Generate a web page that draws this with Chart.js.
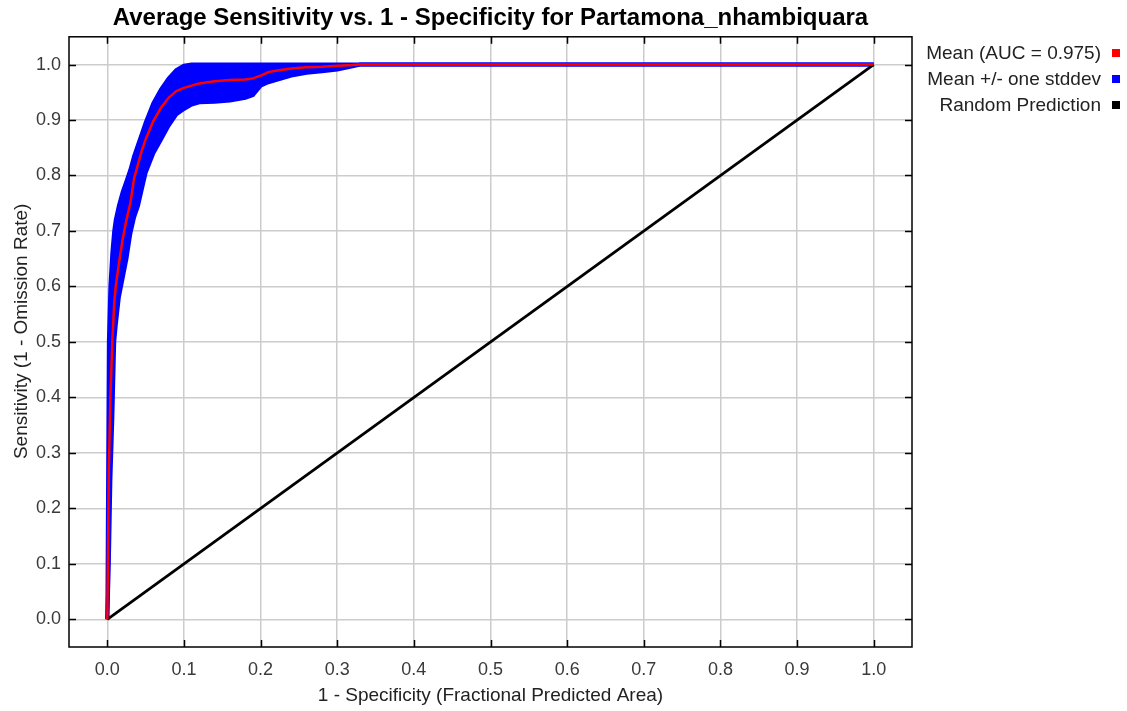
<!DOCTYPE html>
<html>
<head>
<meta charset="utf-8">
<script src="https://cdn.jsdelivr.net/npm/chart.js@4.4.1/dist/chart.umd.min.js"></script>
<style>
  html, body { margin: 0; padding: 0; background: #fff; }
  #wrap { width: 1127px; height: 711px; }
</style>
</head>
<body>
<div id="wrap"><canvas id="roc"></canvas></div>
<script>
// ROC data: fractional predicted area and sensitivity curves
const fpr       = [0, 0.002, 0.004, 0.0065, 0.009, 0.011, 0.015, 0.02, 0.025, 0.03, 0.035, 0.04, 0.045, 0.05, 0.06, 0.07, 0.08, 0.09, 0.1, 0.11, 0.12, 0.14, 0.16, 0.18, 0.19, 0.2, 0.21, 0.22, 0.24, 0.26, 0.28, 0.3, 0.32, 0.33, 0.35, 1.0];
const meanSens  = [0, 0.27, 0.40, 0.50, 0.57, 0.60, 0.64, 0.685, 0.72, 0.75, 0.795, 0.82, 0.845, 0.865, 0.898, 0.922, 0.940, 0.952, 0.958, 0.962, 0.966, 0.970, 0.972, 0.973, 0.975, 0.980, 0.986, 0.989, 0.993, 0.995, 0.996, 0.998, 0.999, 1.0, 1.0, 1.0];
const upperSens = [0, 0.50, 0.60, 0.66, 0.70, 0.72, 0.745, 0.77, 0.79, 0.81, 0.835, 0.855, 0.875, 0.895, 0.93, 0.955, 0.975, 0.99, 0.998, 1.0, 1.0, 1.0, 1.0, 1.0, 1.0, 1.0, 1.0, 1.0, 1.0, 1.0, 1.0, 1.0, 1.0, 1.0, 1.0, 1.0];
const lowerSens = [0, 0.10, 0.25, 0.36, 0.50, 0.53, 0.58, 0.615, 0.65, 0.695, 0.725, 0.745, 0.775, 0.805, 0.84, 0.865, 0.89, 0.91, 0.92, 0.928, 0.932, 0.933, 0.935, 0.94, 0.945, 0.962, 0.968, 0.972, 0.98, 0.985, 0.988, 0.991, 0.997, 1.0, 1.0, 1.0];
const randomX   = [0, 1];
const randomY   = [0, 1];
const tickValues = [0, 0.1, 0.2, 0.3, 0.4, 0.5, 0.6, 0.7, 0.8, 0.9, 1.0];

const FONT = "'Liberation Sans', Arial, sans-serif";
const pts = (xs, ys) => xs.map((v, i) => ({ x: v, y: ys[i] }));

// draws the box, inward tick marks and the right-hand legend
const framePlugin = {
  id: 'frame',
  afterDatasetsDraw(chart) {
    const { ctx, chartArea: a, scales: { x, y } } = chart;
    ctx.save();
    ctx.strokeStyle = '#000';
    ctx.lineWidth = 1.5;
    ctx.strokeRect(a.left, a.top, a.right - a.left, a.bottom - a.top);
    ctx.beginPath();
    tickValues.forEach(v => {
      const px = Math.round(x.getPixelForValue(v)) + 0.5;
      ctx.moveTo(px, a.bottom); ctx.lineTo(px, a.bottom - 7);
      ctx.moveTo(px, a.top);    ctx.lineTo(px, a.top + 7);
      const py = Math.round(y.getPixelForValue(v)) + 0.5;
      ctx.moveTo(a.left, py);   ctx.lineTo(a.left + 7, py);
      ctx.moveTo(a.right, py);  ctx.lineTo(a.right - 7, py);
    });
    ctx.stroke();

    ctx.font = '19px ' + FONT;
    ctx.textAlign = 'right';
    ctx.textBaseline = 'middle';
    chart.data.datasets.filter(d => d.legendColor).forEach((d, i) => {
      const rowY = 54 + i * 26;
      ctx.fillStyle = '#222';
      ctx.fillText(d.label, 1101, rowY);
      ctx.fillStyle = d.legendColor;
      ctx.fillRect(1112, rowY - 5, 8, 8);
    });
    ctx.restore();
  }
};

const axisBase = {
  type: 'linear',
  min: -0.05,
  max: 1.05,
  afterBuildTicks: s => { s.ticks = tickValues.map(v => ({ value: v })); },
  grid: { color: '#cccccc', lineWidth: 1.5, drawTicks: false },
  border: { display: false },
  ticks: {
    color: '#3a3a3a',
    font: { family: FONT, size: 18 },
    callback: v => v.toFixed(1)
  }
};

new Chart(document.getElementById('roc'), {
  type: 'line',
  data: {
    datasets: [
      {
        label: 'Mean (AUC = 0.975)', legendColor: '#ff0000',
        data: pts(fpr, meanSens),
        borderColor: '#ff0000', borderWidth: 2.5, fill: false, order: 0
      },
      {
        label: 'Mean +/- one stddev', legendColor: '#0000ff',
        data: pts(fpr, upperSens),
        borderColor: '#0000ff', backgroundColor: '#0000ff',
        borderWidth: 4, fill: '+1', order: 2
      },
      {
        label: 'lower',
        data: pts(fpr, lowerSens),
        borderColor: '#0000ff', borderWidth: 4, fill: false, order: 3
      },
      {
        label: 'Random Prediction', legendColor: '#000000',
        data: pts(randomX, randomY),
        borderColor: '#000000', borderWidth: 2.8, fill: false, order: 1
      }
    ]
  },
  options: {
    responsive: true,
    maintainAspectRatio: false,
    animation: false,
    elements: { point: { radius: 0 }, line: { tension: 0 } },
    layout: { padding: { left: 0, right: 215, top: 0, bottom: 0 } },
    plugins: {
      legend: { display: false },
      tooltip: { enabled: false },
      title: {
        display: true,
        fullSize: false,
        text: 'Average Sensitivity vs. 1 - Specificity for Partamona_nhambiquara',
        color: '#000',
        font: { family: FONT, size: 24, weight: 'bold' },
        padding: { top: 4, bottom: 4 }
      }
    },
    scales: {
      x: {
        ...axisBase,
        afterFit: s => { s.height = 64; },
        ticks: { ...axisBase.ticks, padding: 12, maxRotation: 0 },
        title: {
          display: true, text: '1 - Specificity (Fractional Predicted Area)',
          color: '#222', font: { family: FONT, size: 19 }, padding: { top: 0, bottom: 4 }
        }
      },
      y: {
        ...axisBase,
        afterFit: s => { s.width = 69; },
        ticks: { ...axisBase.ticks, padding: 8 },
        title: {
          display: true, text: '    Sensitivity (1 - Omission Rate)',
          color: '#222', font: { family: FONT, size: 19 }, padding: { top: 10, bottom: 0 }
        }
      }
    }
  },
  plugins: [framePlugin]
});
</script>
</body>
</html>
